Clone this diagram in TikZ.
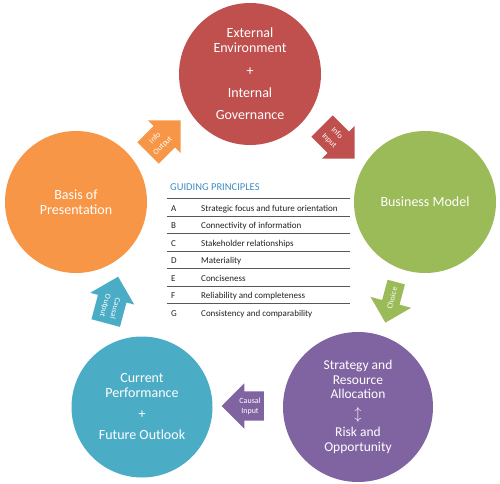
\documentclass[tikz,border=0pt]{standalone}
\usepackage{fontspec}
\setmainfont{Carlito}
\usetikzlibrary{shapes.arrows,calc}
\definecolor{ink}{HTML}{231F20}
\definecolor{envred}{HTML}{C0504D}
\definecolor{bmgreen}{HTML}{9BBB59}
\definecolor{presorange}{HTML}{F79646}
\definecolor{perfblue}{HTML}{4BACC6}
\definecolor{stratpurple}{HTML}{8064A2}
\definecolor{titleblue}{HTML}{3D8EC4}

\begin{document}
\begin{tikzpicture}[x=1pt, y=1pt,
  circ/.style={circle, fill=#1, minimum size=142pt, inner sep=0pt, text=white, align=center, font=\fontsize{14}{15}\selectfont},
  flow/.style={single arrow, fill=#1, single arrow head extend=8pt, minimum height=46pt, inner xsep=3pt, inner ysep=6pt, text=white, align=center, font=\fontsize{8}{11}\selectfont},
  row/.style={anchor=base west, inner sep=0pt, text=ink, font=\fontsize{9}{10}\selectfont},
  rule/.style={draw=ink!75, line width=0.7pt}]
\useasboundingbox (0,0) rectangle (500,483);
% the five stages
\node[circ=envred] (env) at (250,409) {External\\Environment\\[8pt]+\\[7pt]Internal\\[7pt]Governance};
\node[circ=bmgreen] (bm) at (425,281) {Business Model};
\node[circ=presorange] (bp) at (76,281) {Basis of\\Presentation};
\node[circ=perfblue, minimum size=141pt] (cp) at (142,76) {Current\\Performance\\[6pt]+\\[6pt]Future Outlook};
\node[circ=stratpurple, minimum size=150pt, font=\fontsize{13.5}{14.5}\selectfont] (sr) at (358,76)
  {Strategy and\\Resource\\Allocation\\[5pt]$\updownarrow$\\[4pt]Risk and\\Opportunity};
% block arrows between stages
\node[flow=presorange, rotate=45] (io) at (159,341) {Info\\Output};
\node[flow=envred, rotate=-45] (ii) at (333,346) {Info\\Input};
\node[flow=bmgreen, rotate=-105, single arrow head extend=12pt, minimum height=42pt] (ch) at (392,185) {\rotatebox{180}{Choice}};
\node[flow=stratpurple, rotate=180, minimum height=38pt] (ci) at (250,77) {\rotatebox{180}{\shortstack{Causal\\[2pt]Input}}};
\node[flow=perfblue, rotate=75, minimum height=48pt] (co) at (110,176) {\rotatebox{180}{\shortstack{Causal\\[2pt]Output}}};
% guiding principles table
\node[anchor=base west, inner sep=0pt, text=titleblue, font=\fontsize{10.5}{12}\selectfont] (gp) at (170,293) {GUIDING PRINCIPLES};
\draw[rule] (167,285) -- (350,285) (167,267) -- (350,267) (167,250) -- (350,250) (167,232) -- (350,232)
  (167,215) -- (350,215) (167,197) -- (350,197) (167,180) -- (350,180);
\node[row] (la) at (171,272) {A};
\node[row] (ta) at (201,272) {Strategic focus and future orientation};
\node[row] (lb) at (171,255) {B};
\node[row] (tb) at (201,255) {Connectivity of information};
\node[row] (lc) at (171,237) {C};
\node[row] (tc) at (201,237) {Stakeholder relationships};
\node[row] (ld) at (171,220) {D};
\node[row] (td) at (201,220) {Materiality};
\node[row] (le) at (171,202) {E};
\node[row] (te) at (201,202) {Conciseness};
\node[row] (lf) at (171,185) {F};
\node[row] (tf) at (201,185) {Reliability and completeness};
\node[row] (lg) at (171,167) {G};
\node[row] (tg) at (201,167) {Consistency and comparability};
\end{tikzpicture}
\end{document}
